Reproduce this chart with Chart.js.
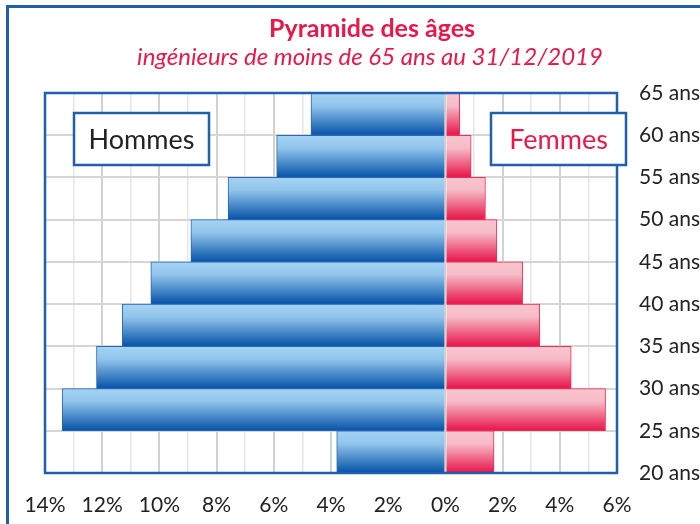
<!DOCTYPE html>
<html>
<head>
<meta charset="utf-8">
<script src="https://cdn.jsdelivr.net/npm/chart.js@4.4.1/dist/chart.umd.min.js"></script>
<style>
  html, body { margin: 0; padding: 0; background: #fff; overflow: hidden; }
  #wrap { width: 740px; height: 540px; }
</style>
</head>
<body>
<div id="wrap"><canvas id="pyramide" width="740" height="540"></canvas></div>
<script>
// tranches d'age, du bas vers le haut
var ages = ["20-24", "25-29", "30-34", "35-39", "40-44", "45-49", "50-54", "55-59", "60-64"];
var hommes = [3.8, 13.4, 12.2, 11.3, 10.3, 8.9, 7.6, 5.9, 4.7];
var femmes = [1.7, 5.6, 4.4, 3.3, 2.7, 1.8, 1.4, 0.9, 0.5];
var xMin = -14, xMax = 6;
var ageMin = 20, ageMax = 65;

var titre = "Pyramide des âges";
var sousTitre = "ingénieurs de moins de 65 ans au 31/12/2019";

var bleu = "#1f5fae";
var rouge = "#e8194a";
var fontName = "Lato, 'Open Sans', sans-serif";

function barGradient(ctx, light, mid, dark) {
  var chart = ctx.chart;
  if (!chart.chartArea) return dark;
  var y = chart.scales.y;
  var c = y.getPixelForValue(ctx.dataIndex);
  var half = Math.abs(y.getPixelForValue(1) - y.getPixelForValue(0)) / 2;
  var g = chart.ctx.createLinearGradient(0, c - half, 0, c + half);
  g.addColorStop(0, light);
  g.addColorStop(0.3, mid);
  g.addColorStop(1, dark);
  return g;
}

var decor = {
  id: "decor",
  beforeDraw: function (chart) {
    var ctx = chart.ctx, w = chart.width, h = chart.height;
    ctx.save();
    ctx.fillStyle = "#fff";
    ctx.fillRect(0, 0, w, h);
    // cadre exterieur
    ctx.strokeStyle = bleu;
    ctx.lineWidth = 3;
    ctx.strokeRect(7.5, 6.5, w - 15, h - 13);
    // titres
    ctx.fillStyle = rouge;
    ctx.textAlign = "center";
    ctx.textBaseline = "alphabetic";
    ctx.font = "bold 25px " + fontName;
    ctx.fillText(titre, w / 2 + 2, 37);
    ctx.font = "italic 24px " + fontName;
    ctx.fillText(sousTitre, w / 2, 65);
    ctx.restore();
  },
  afterDatasetsDraw: function (chart) {
    var ctx = chart.ctx, a = chart.chartArea;
    ctx.save();
    ctx.strokeStyle = bleu;
    ctx.lineWidth = 2.5;
    ctx.strokeRect(a.left, a.top, a.right - a.left, a.bottom - a.top);
    // cartouches Hommes / Femmes
    function box(x, y, bw, bh, text, color) {
      ctx.fillStyle = "#fff";
      ctx.fillRect(x, y, bw, bh);
      ctx.lineWidth = 2.5;
      ctx.strokeStyle = bleu;
      ctx.strokeRect(x, y, bw, bh);
      ctx.fillStyle = color;
      ctx.font = "27px " + fontName;
      ctx.textAlign = "center";
      ctx.textBaseline = "middle";
      ctx.fillText(text, x + bw / 2, y + bh / 2 + 1);
    }
    box(a.left + 29, a.top + 20, 135, 52, "Hommes", "#222");
    box(a.right - 126, a.top + 20, 135, 52, "Femmes", rouge);
    ctx.restore();
  }
};

new Chart("pyramide", {
  type: "bar",
  data: {
    labels: ages,
    datasets: [{
      label: "Hommes",
      data: hommes.map(function (v) { return -v; }),
      backgroundColor: function (ctx) { return barGradient(ctx, "#a4d4f3", "#92c5ec", "#0452a7"); },
      borderColor: "#2a66b3",
      borderWidth: 1,
      barPercentage: 1,
      categoryPercentage: 1
    }, {
      label: "Femmes",
      data: femmes,
      backgroundColor: function (ctx) { return barGradient(ctx, "#f8c5ce", "#f6bcc7", "#e8134a"); },
      borderColor: "#e9305a",
      borderWidth: 1,
      barPercentage: 1,
      categoryPercentage: 1
    }]
  },
  options: {
    indexAxis: "y",
    responsive: false,
    animation: false,
    devicePixelRatio: 1,
    layout: { padding: { top: 93, left: 45, right: 23, bottom: 22 } },
    plugins: {
      legend: { display: false },
      tooltip: { enabled: false }
    },
    scales: {
      x: {
        stacked: true,
        min: xMin,
        max: xMax,
        afterFit: function (s) { s.height = 45; },
        border: { display: false },
        grid: {
          drawTicks: false,
          color: function (c) { return c.tick && c.tick.value % 2 === 0 ? "#d2d2d2" : "#e6e6e6"; },
          lineWidth: function (c) { return c.tick && c.tick.value % 2 === 0 ? 2 : 1.5; }
        },
        ticks: {
          stepSize: 1,
          padding: 20,
          autoSkip: false,
          maxRotation: 0,
          minRotation: 0,
          color: "#222",
          font: { family: fontName, size: 21 },
          callback: function (v) { return v % 2 === 0 ? Math.abs(v) + "%" : ""; }
        }
      },
      y: {
        stacked: true,
        reverse: true,
        display: false
      },
      y2: {
        type: "linear",
        position: "right",
        min: ageMin,
        max: ageMax,
        offset: false,
        afterFit: function (s) { s.width = 100; },
        border: { display: false },
        grid: { drawTicks: false, offset: false, color: "#d6d6d6", lineWidth: 2 },
        ticks: {
          stepSize: 5,
          padding: 22,
          color: "#222",
          font: { family: fontName, size: 21 },
          callback: function (v) { return v + " ans"; }
        }
      }
    }
  },
  plugins: [decor]
});
</script>
</body>
</html>
